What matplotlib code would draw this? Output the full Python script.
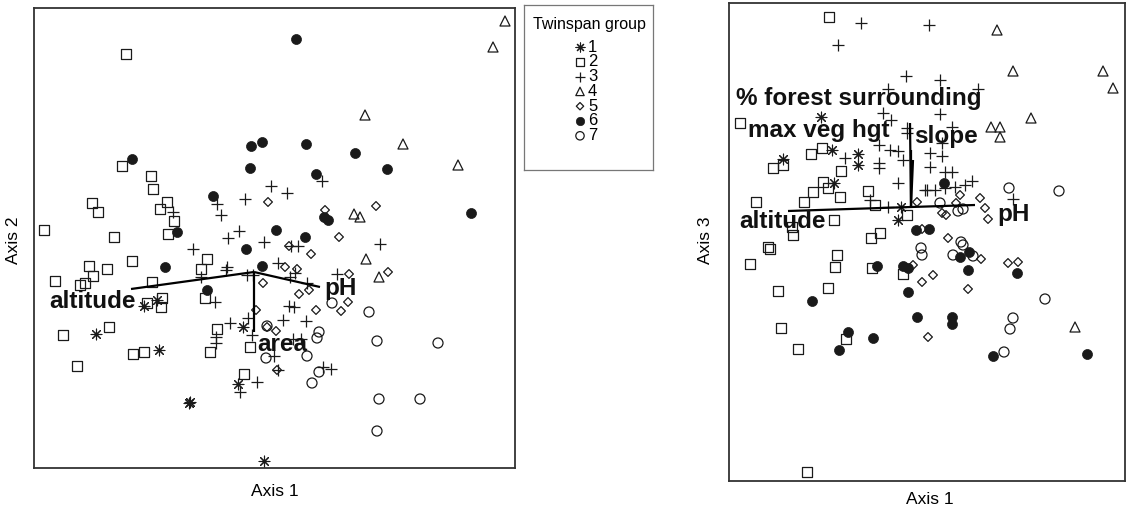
import matplotlib
matplotlib.use("Agg")
import matplotlib.pyplot as plt

plt.rcParams['font.family'] = ['Liberation Sans', 'DejaVu Sans']

W, H = 1128, 514

# ---------------- data (ordination scores, in plot units; y grows downward) -------------
group_labels = ['1', '2', '3', '4', '5', '6', '7']
legend_title = 'Twinspan group'

# Left panel: Axis 1 vs Axis 2
L_g1 = [(144, 306), (157, 300), (96, 334), (159, 350), (243, 327), (238, 384),
        (189, 403), (190, 402), (264, 461)]
L_g2 = [(126, 54), (122, 166), (151, 176), (153, 189), (92, 203), (98, 212), (167, 202),
        (160, 209), (174, 221), (44, 230), (114, 237), (168, 234), (207, 259), (201, 269),
        (132, 261), (89, 266), (107, 269), (93, 276), (85, 283), (80, 285), (55, 281),
        (152, 282), (205, 298), (147, 303), (162, 298), (161, 307), (109, 327), (63, 335),
        (217, 329), (133, 354), (144, 352), (210, 352), (250, 347), (77, 366), (244, 374)]
L_g3 = [(173, 212), (217, 204), (221, 215), (245, 199), (271, 186), (239, 231), (228, 238),
        (322, 181), (287, 193), (264, 242), (193, 249), (227, 267), (226, 270), (278, 263),
        (247, 275), (253, 275), (201, 277), (215, 302), (248, 318), (230, 323), (216, 337),
        (216, 343), (252, 335), (274, 356), (257, 382), (240, 392), (291, 246), (298, 246),
        (380, 244), (295, 273), (290, 277), (337, 274), (307, 283), (289, 306), (294, 307),
        (283, 320), (306, 321), (293, 339), (301, 339), (323, 367), (331, 369), (278, 370)]
L_g4 = [(505, 21), (493, 47), (365, 115), (403, 144), (458, 165), (354, 214), (360, 217),
        (366, 259), (379, 277)]
L_g5 = [(268, 202), (325, 210), (376, 206), (339, 237), (263, 283), (256, 310), (267, 327),
        (276, 331), (277, 370), (289, 246), (311, 254), (388, 272), (285, 267), (297, 269),
        (349, 274), (309, 290), (299, 294), (348, 302), (341, 311), (316, 310)]
L_g6 = [(132, 159), (251, 146), (262, 142), (250, 168), (213, 196), (177, 232), (276, 230),
        (296, 39), (306, 144), (355, 153), (387, 169), (316, 174), (471, 213), (324, 217),
        (328, 220), (305, 237), (246, 249), (165, 267), (262, 266), (207, 290)]
L_g7 = [(266, 358), (332, 303), (369, 312), (319, 332), (317, 338), (377, 341), (438, 343),
        (307, 356), (319, 372), (312, 383), (379, 399), (420, 399), (377, 431), (267, 326)]

# Left panel environmental vectors
L_origin = (254, 272)
L_vec_names = ['altitude', 'area', 'pH']
L_vec_ends = [(131, 289), (254, 332), (320, 287)]

# Right panel: Axis 1 vs Axis 3
R_g1 = [(821, 117), (783, 159), (832, 150), (858, 154), (858, 165), (834, 183), (901, 207),
        (898, 220)]
R_g2 = [(829, 17), (740, 123), (783, 165), (773, 168), (811, 154), (822, 148), (841, 171),
        (823, 182), (828, 188), (813, 192), (840, 197), (756, 202), (804, 202), (868, 191),
        (875, 205), (907, 215), (834, 220), (792, 227), (793, 235), (871, 238), (880, 233),
        (768, 247), (770, 249), (750, 264), (837, 255), (835, 267), (872, 268), (903, 274),
        (778, 291), (828, 288), (781, 328), (798, 349), (846, 339), (807, 472)]
R_g3 = [(861, 23), (929, 25), (838, 45), (906, 76), (888, 89), (883, 113), (891, 120),
        (907, 128), (907, 133), (845, 158), (879, 145), (890, 150), (898, 151), (903, 160),
        (879, 163), (879, 168), (898, 183), (925, 190), (870, 200), (888, 207), (940, 80),
        (978, 89), (940, 114), (952, 127), (942, 143), (930, 153), (942, 156), (930, 167),
        (945, 172), (952, 172), (927, 190), (935, 190), (945, 188), (955, 187), (965, 185),
        (972, 181), (1013, 199)]
R_g4 = [(997, 30), (1013, 71), (1103, 71), (1113, 88), (1031, 118), (991, 127), (1000, 127),
        (1000, 137), (1075, 327)]
R_g5 = [(917, 202), (960, 195), (956, 203), (980, 198), (985, 208), (988, 219), (942, 213),
        (946, 215), (948, 238), (922, 229), (913, 265), (922, 282), (933, 275), (981, 259),
        (1008, 263), (1018, 262), (968, 289), (928, 337)]
R_g6 = [(916, 230), (929, 229), (944, 183), (877, 266), (903, 266), (908, 268), (908, 292),
        (812, 301), (917, 317), (848, 332), (839, 350), (873, 338), (969, 252), (960, 257),
        (1017, 273), (968, 270), (952, 317), (952, 324), (993, 356), (1087, 354)]
R_g7 = [(1009, 188), (1059, 191), (940, 203), (958, 211), (963, 209), (961, 242), (963, 245),
        (921, 248), (922, 255), (953, 255), (973, 256), (1045, 299), (1013, 318), (1010, 329),
        (1004, 352)]

R_origin = (911, 207)
R_vec_names = ['altitude', 'pH', '% forest surrounding', 'max veg hgt', 'slope']
R_vec_ends = [(788, 211), (975, 205), (910, 123), (911, 150), (913, 160)]

# ---------------- styles -----------------
INK = '#1a1a1a'
styles = [
    dict(marker=(8, 2, 0), s=60, facecolors=INK, edgecolors=INK, linewidths=0.8),   # 1 asterisk
    dict(marker='s', s=46, facecolors='none', edgecolors=INK, linewidths=0.9),      # 2 square
    dict(marker='+', s=70, c=INK, linewidths=0.9),                                  # 3 plus
    dict(marker='^', s=52, facecolors='none', edgecolors=INK, linewidths=0.9),      # 4 triangle
    dict(marker='D', s=20, facecolors='none', edgecolors=INK, linewidths=0.9),      # 5 diamond
    dict(marker='o', s=52, facecolors=INK, edgecolors=INK, linewidths=0.5),         # 6 filled circle
    dict(marker='o', s=52, facecolors='none', edgecolors=INK, linewidths=0.9),      # 7 open circle
]

fig = plt.figure(figsize=(W / 100, H / 100), dpi=100)


def make_ax(x0, y0, x1, y1):
    ax = fig.add_axes([x0 / W, 1 - y1 / H, (x1 - x0) / W, (y1 - y0) / H])
    ax.set_xlim(x0, x1)
    ax.set_ylim(y1, y0)
    ax.set_xticks([])
    ax.set_yticks([])
    for sp in ax.spines.values():
        sp.set_linewidth(1.3)
        sp.set_color('#333333')
    return ax


def draw_groups(ax, groups):
    for pts, st in zip(groups, styles):
        xs = [p[0] for p in pts]
        ys = [p[1] for p in pts]
        ax.scatter(xs, ys, zorder=3, **st)


def draw_vectors(ax, origin, ends):
    for e in ends:
        ax.plot([origin[0], e[0]], [origin[1], e[1]], color='black', lw=1.6,
                solid_capstyle='butt', zorder=4)


label_kw = dict(fontsize=17.5, fontweight='bold', color='#111111', zorder=5)

# Left panel
axL = make_ax(34, 8, 515, 468)
draw_groups(axL, [L_g1, L_g2, L_g3, L_g4, L_g5, L_g6, L_g7])
draw_vectors(axL, L_origin, L_vec_ends)
axL.text(136, 302, L_vec_names[0], ha='right', va='center', **label_kw)
axL.text(257, 345, L_vec_names[1], ha='left', va='center', **label_kw)
axL.text(324, 289, L_vec_names[2], ha='left', va='center', **label_kw)
fig.text(275 / W, 1 - 492 / H, 'Axis 1', ha='center', va='center', fontsize=12.5)
fig.text(13 / W, 1 - 240 / H, 'Axis 2', ha='center', va='center', fontsize=12.5, rotation=90)

# Legend box
axLeg = make_ax(524, 5, 653, 170)
for sp in axLeg.spines.values():
    sp.set_linewidth(0.9)
    sp.set_color('#777777')
axLeg.text(589, 25, legend_title, ha='center', va='center', fontsize=11.5)
for i, (lab, st) in enumerate(zip(group_labels, styles)):
    yy = 47 + i * 14.8
    st2 = dict(st)
    st2['s'] = st['s'] * 0.7
    axLeg.scatter([580], [yy], **st2)
    axLeg.text(588, yy, lab, ha='left', va='center', fontsize=12)

# Right panel
axR = make_ax(729, 3, 1125, 481)
draw_groups(axR, [R_g1, R_g2, R_g3, R_g4, R_g5, R_g6, R_g7])
draw_vectors(axR, R_origin, R_vec_ends)
axR.text(826, 222, R_vec_names[0], ha='right', va='center', **label_kw)
axR.text(997, 215, R_vec_names[1], ha='left', va='center', **label_kw)
axR.text(736, 98, R_vec_names[2], ha='left', va='center', **label_kw)
axR.text(748, 130, R_vec_names[3], ha='left', va='center', **label_kw)
axR.text(914, 137, R_vec_names[4], ha='left', va='center', **label_kw)
fig.text(930 / W, 1 - 500 / H, 'Axis 1', ha='center', va='center', fontsize=12.5)
fig.text(706 / W, 1 - 240 / H, 'Axis 3', ha='center', va='center', fontsize=12.5, rotation=90)

fig.savefig('out.png', dpi=100, facecolor='white')
